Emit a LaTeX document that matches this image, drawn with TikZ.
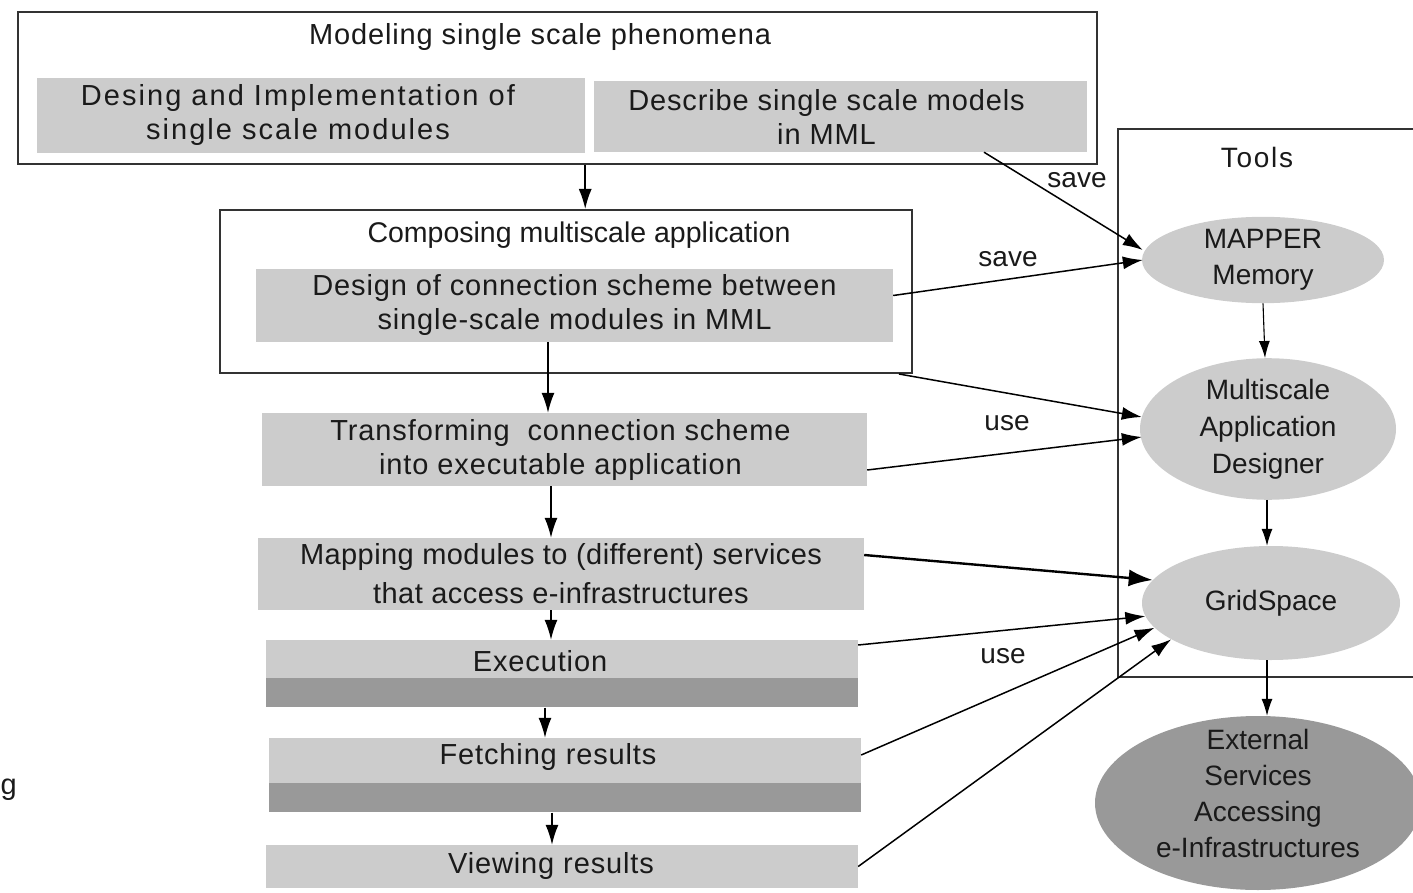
\documentclass[tikz,border=0pt]{standalone}
\usepackage{fontspec}
\setmainfont{Liberation Sans}
\usetikzlibrary{arrows.meta,shapes.geometric}
\definecolor{boxgray}{HTML}{CCCCCC}
\definecolor{bandgray}{HTML}{999999}
\definecolor{framecol}{HTML}{333333}
\definecolor{ink}{HTML}{1A1A1A}
\newcommand\boxfont{\fontsize{29}{34}\selectfont\addfontfeature{LetterSpace=3}}
\newcommand\widefont{\fontsize{29}{34}\selectfont\addfontfeature{LetterSpace=7}}
\newcommand\plainfont{\fontsize{28}{36}\selectfont}
\begin{document}
\begin{tikzpicture}[x=1pt,y=-1pt,
  frame/.style={draw=framecol,line width=2pt,inner sep=0,fill=white},
  stepbox/.style={fill=boxgray,inner sep=0},
  band/.style={fill=bandgray,inner sep=0},
  txt/.style={text=ink,align=center,font=\boxfont,inner sep=0},
  tool/.style={ellipse,fill=boxgray,inner sep=0,align=center,text=ink,font=\plainfont},
  lbl/.style={text=ink,font=\plainfont,inner sep=0},
  arr/.style={draw=black,line width=1.5pt,-{Latex[length=20pt,width=13pt]}},
  thinarr/.style={draw=black,line width=1.1pt,-{Latex[length=17pt,width=11pt]}},
  boldarr/.style={draw=black,line width=2.4pt,-{Latex[length=24pt,width=17pt]}}]
\useasboundingbox (0,0) rectangle (1413,893);
\clip (0,0) rectangle (1413,893);

% stage 1: single scale modelling
\node[frame,minimum width=1079pt,minimum height=152pt] (frame1) at (557.5,88) {};
\node[txt] (title1) at (540,37) {Modeling single scale phenomena};
\node[stepbox,minimum width=548pt,minimum height=75pt,
  label={[txt,font=\widefont,xshift=-13pt]center:Desing and Implementation of\\single scale modules}]
  (gA) at (311,115.5) {};
\node[stepbox,minimum width=493pt,minimum height=71pt,
  label={[txt,xshift=-14pt]center:Describe single scale models\\in MML}]
  (gB) at (840.5,116.5) {};

% stage 2: composing the application
\node[frame,minimum width=692pt,minimum height=163pt] (frame2) at (566,291.5) {};
\node[txt,font=\fontsize{28.5}{34}\selectfont] (title2) at (579,235) {Composing multiscale application};
\node[stepbox,minimum width=637pt,minimum height=73pt,
  label={[txt]center:Design of connection scheme between\\single-scale modules in MML}]
  (gC) at (574.5,305.5) {};

% remaining steps
\node[stepbox,minimum width=605pt,minimum height=73pt,
  label={[txt,xshift=-4pt]center:Transforming\ \ connection scheme\\into executable application}]
  (trans) at (564.5,449.5) {};
\node[stepbox,minimum width=606pt,minimum height=72pt,
  label={[txt,font=\fontsize{29}{39}\selectfont\addfontfeature{LetterSpace=1.5}]center:Mapping modules to (different) services\\that access e-infrastructures}]
  (mapmod) at (561,574) {};
\node[stepbox,minimum width=592pt,minimum height=38pt,
  label={[txt,xshift=-22pt,yshift=-2pt]center:Execution}]
  (exec) at (562,659) {};
\node[band,minimum width=592pt,minimum height=29pt,anchor=north] (execbar) at (exec.south) {};
\node[stepbox,minimum width=592pt,minimum height=45pt,
  label={[txt,xshift=-17pt,yshift=4pt]center:Fetching results}]
  (fetch) at (565,760.5) {};
\node[band,minimum width=592pt,minimum height=29pt,anchor=north] (fetchbar) at (fetch.south) {};
\node[stepbox,minimum width=592pt,minimum height=43pt,
  label={[txt,xshift=-11pt,yshift=1pt]center:Viewing results}]
  (view) at (562,866.5) {};

% word fragment at the left margin
\node[lbl,font=\fontsize{29}{34}\selectfont,anchor=base west] (stub) at (0.5,794) {g};

% tools
\node[frame,fill=none,anchor=north west,minimum width=420pt,minimum height=548pt] (tools) at (1117,128) {};
\node[lbl] (toolstitle) at (1257,157) {\addfontfeature{LetterSpace=6}Tools};
\node[tool,minimum width=242pt,minimum height=80pt] (mapper) at (1263,260) {MAPPER\\Memory};
\node[tool,font=\fontsize{28}{37}\selectfont,minimum width=256pt,minimum height=118pt] (mad) at (1268,429) {Multiscale\\Application\\Designer};
\node[tool,minimum width=258pt,minimum height=114pt] (grid) at (1271,603) {GridSpace};
\node[tool,fill=bandgray,minimum width=326pt,minimum height=174pt,
  label={[text=ink,align=center,font=\plainfont,inner sep=0,yshift=10pt]center:External\\Services\\Accessing\\e-Infrastructures}]
  (ext) at (1258,803) {};

% flow between steps
\draw[arr] (gA.east |- frame1.south) -- (gA.east |- frame2.north);
\draw[arr] ([xshift=-26.5pt]gC.south) -- ([xshift=-16.5pt]trans.north);
\draw[arr] ([xshift=-13.5pt]trans.south) -- ([xshift=-10pt]mapmod.north);
\draw[arr] ([xshift=-10pt]mapmod.south) -- ([xshift=-11pt]exec.north);
\draw[arr] ([xshift=-17pt]execbar.south) -- ([xshift=-20pt]fetch.north);
\draw[arr] ([xshift=-13pt]fetchbar.south) -- ([xshift=-10pt]view.north);

% flow between tools
\draw[thinarr] (mapper.south) -- ([xshift=-3pt]mad.north);
\draw[thinarr] ([xshift=-1pt]mad.south) -- ([xshift=-4pt]grid.north);
\draw[thinarr] ([xshift=-4pt]grid.south) -- ([xshift=9pt]ext.north);

% links from steps to tools
\draw[arr] ([xshift=143.5pt]gB.south) -- ([xshift=1pt,yshift=10pt]mapper.west);
\node[lbl] (save1) at (1077,180) {save};
\draw[arr] ([yshift=10pt]gC.east) -- ([xshift=1pt]mapper.west);
\node[lbl] (save2) at (1008,259) {save};
\draw[arr] ([xshift=-14pt]frame2.south east) -- ([xshift=2pt,yshift=12pt]mad.west);
\draw[arr] ([yshift=-20.5pt]trans.east) -- ([xshift=2pt,yshift=-8pt]mad.west);
\node[lbl] (use1) at (1007,423) {use};
\draw[boldarr] ([yshift=19pt]mapmod.east) -- (grid.169);
\draw[arr] ([yshift=14pt]exec.east) -- (grid.186);
\node[lbl] (use2) at (1003,656) {use};
\draw[arr] ([yshift=5.5pt]fetch.east) -- (grid.192);
\draw[arr] (view.east) -- (grid.200);
\end{tikzpicture}
\end{document}
